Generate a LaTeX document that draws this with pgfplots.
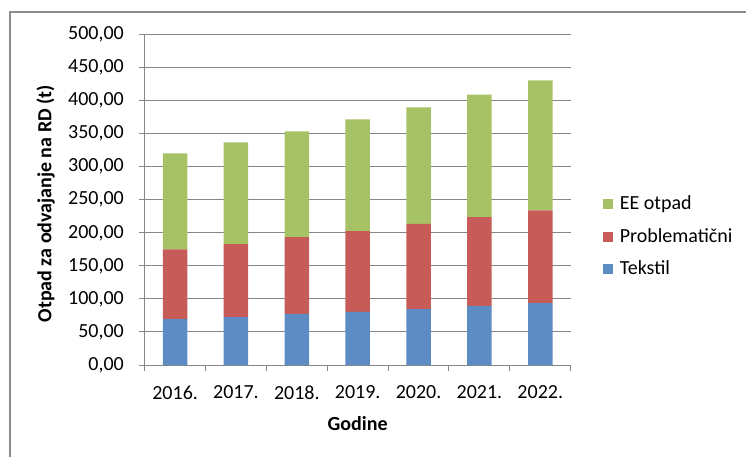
\documentclass[border=0pt]{standalone}
\usepackage{fontspec}
\setmainfont{Carlito}
\usepackage{pgfplots}
\pgfplotsset{compat=1.18}
\definecolor{tekstil}{HTML}{5D8CC5}
\definecolor{probl}{HTML}{C65B58}
\definecolor{ee}{HTML}{A6C264}
\definecolor{gridgray}{HTML}{868686}
\definecolor{framegray}{HTML}{8C8C8C}
\begin{document}
\fontsize{20}{24}\selectfont
\begin{tikzpicture}[x=1pt,y=1pt]
\useasboundingbox (0,0) rectangle (746,456);
% chart frame (cut at right and bottom)
\draw[line width=2pt, framegray] (10,-10) -- (10,444) -- (760,444);
\begin{axis}[
    at={(144.7pt,91pt)}, anchor=south west,
    scale only axis, width=426pt, height=330.5pt,
    ybar stacked, bar width=24.5pt,
    xmin=-0.5, xmax=6.5, ymin=0, ymax=500,
    xtick={0,...,6},
    xticklabels={2016.,2017.,2018.,2019.,2020.,2021.,2022.},
    major x tick style={draw=none},
    extra x ticks={-0.5,0.5,...,6.5},
    extra x tick labels={},
    extra x tick style={grid=none, major x tick style={draw=gridgray, line width=1pt}},
    ytick={0,50,...,500},
    ymajorgrids, grid style={gridgray, line width=1pt},
    axis x line*=bottom, axis y line*=left,
    axis line style={gridgray, line width=1pt},
    y tick style={gridgray, line width=1pt},
    tick align=outside, major tick length=6pt,
    /pgf/number format/fixed, /pgf/number format/fixed zerofill,
    /pgf/number format/precision=2, /pgf/number format/use comma,
    /pgf/number format/1000 sep={}, /pgf/number format/assume math mode=true,
    yticklabel style={xshift=-8pt},
    xticklabel style={yshift=-8pt},
    xlabel={\textbf{Godine}},
    ylabel={\textbf{Otpad za odvajanje na RD (t)}},
    xlabel style={at={(rel axis cs:0.5,0)}, anchor=center, yshift=-59pt},
    ylabel style={at={(rel axis cs:0,0.5)}, anchor=center, yshift=99pt, xshift=-4pt},
    reverse legend,
    legend cell align=left,
    legend style={at={(1.075,0.388)}, anchor=west, draw=none, fill=none,
        row sep=15.5pt, inner sep=0pt, nodes={inner xsep=7pt, inner ysep=0pt}},
    legend image code/.code={\fill[#1] (0pt,-5pt) rectangle (10pt,5pt);},
]
\addplot[fill=tekstil, draw=none] coordinates {(0,69.5) (1,72.5) (2,77.5) (3,80.5) (4,84.6) (5,89.6) (6,93.6)};
\addplot[fill=probl, draw=none] coordinates {(0,105.5) (1,110.3) (2,115.9) (3,121.9) (4,128.9) (5,134.0) (6,140.4)};
\addplot[fill=ee, draw=none] coordinates {(0,145.2) (1,154.1) (2,160.1) (3,169.2) (4,176.2) (5,185.4) (6,196.5)};
\legend{Tekstil, Problematični, EE otpad}
\end{axis}
\end{tikzpicture}
\end{document}
